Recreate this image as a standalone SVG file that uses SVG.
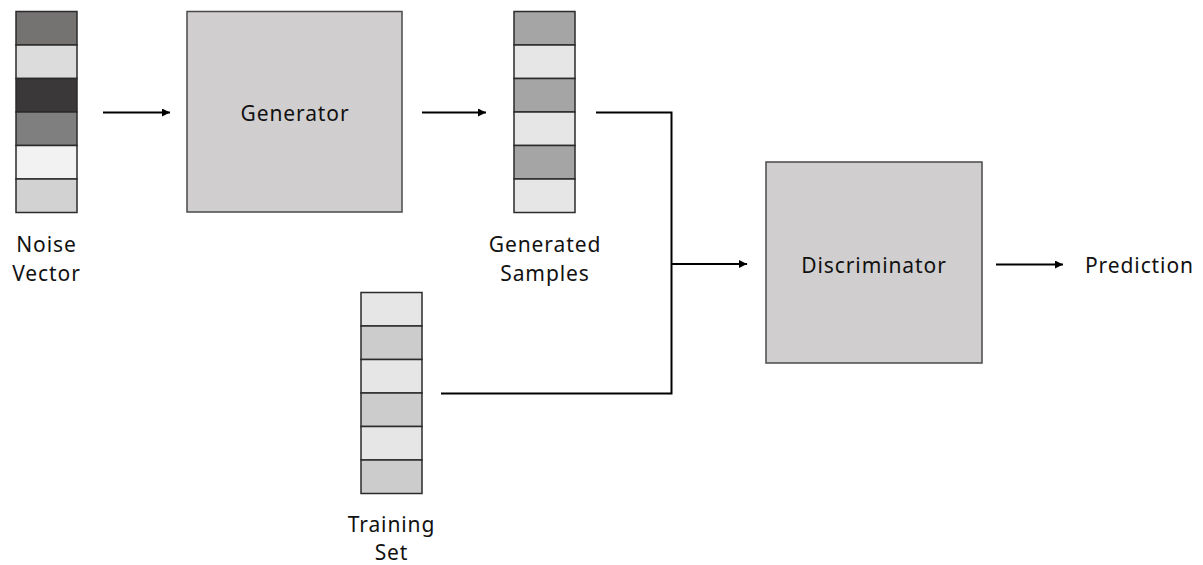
<svg xmlns="http://www.w3.org/2000/svg" width="1203" height="565" viewBox="0 0 1203 565">
<style>
.cell{stroke:#2b2b2b;stroke-width:1.5}
.box{fill:#d0cecf;stroke:#4a4a4a;stroke-width:1.5}
.lbl{font-family:"Noto Sans","Liberation Sans",sans-serif;font-size:21px;fill:#111;text-anchor:middle;letter-spacing:0.9px}
.edge{fill:none;stroke:#000;stroke-width:2}
</style>
<defs>
<marker id="ah" viewBox="0 0 10 10" refX="10" refY="5" markerWidth="10" markerHeight="8" markerUnits="userSpaceOnUse" orient="auto">
<path d="M0,0 L10,5 L0,10 Z" fill="#000"/>
</marker>
</defs>
<rect width="1203" height="565" fill="#fff"/>
<g id="noise-vector">
<rect class="cell" x="16" y="11.5" width="61" height="33.5" fill="#757272"/>
<rect class="cell" x="16" y="45" width="61" height="33.5" fill="#dcdcdc"/>
<rect class="cell" x="16" y="78.5" width="61" height="33.5" fill="#3a3838"/>
<rect class="cell" x="16" y="112" width="61" height="33.5" fill="#7f7f7f"/>
<rect class="cell" x="16" y="145.5" width="61" height="33.5" fill="#f2f2f2"/>
<rect class="cell" x="16" y="179" width="61" height="33.5" fill="#d3d2d3"/>
<text class="lbl" x="46.5" y="252">Noise</text>
<text class="lbl" x="46.5" y="281">Vector</text>
</g>
<g id="generator">
<rect class="box" x="187" y="11.5" width="215" height="200.5"/>
<text class="lbl" x="295" y="121">Generator</text>
</g>
<g id="generated-samples">
<rect class="cell" x="514" y="11.5" width="61" height="33.5" fill="#a5a5a5"/>
<rect class="cell" x="514" y="45" width="61" height="33.5" fill="#e6e6e6"/>
<rect class="cell" x="514" y="78.5" width="61" height="33.5" fill="#a5a5a5"/>
<rect class="cell" x="514" y="112" width="61" height="33.5" fill="#e6e6e6"/>
<rect class="cell" x="514" y="145.5" width="61" height="33.5" fill="#a5a5a5"/>
<rect class="cell" x="514" y="179" width="61" height="33.5" fill="#e6e6e6"/>
<text class="lbl" x="545" y="252">Generated</text>
<text class="lbl" x="545" y="281">Samples</text>
</g>
<g id="training-set">
<rect class="cell" x="361" y="292.5" width="61" height="33.5" fill="#e6e6e6"/>
<rect class="cell" x="361" y="326" width="61" height="33.5" fill="#cccccc"/>
<rect class="cell" x="361" y="359.5" width="61" height="33.5" fill="#e6e6e6"/>
<rect class="cell" x="361" y="393" width="61" height="33.5" fill="#cccccc"/>
<rect class="cell" x="361" y="426.5" width="61" height="33.5" fill="#e6e6e6"/>
<rect class="cell" x="361" y="460" width="61" height="33.5" fill="#cccccc"/>
<text class="lbl" x="391.5" y="532">Training</text>
<text class="lbl" x="391.5" y="560">Set</text>
</g>
<g id="discriminator">
<rect class="box" x="766" y="162" width="216" height="201"/>
<text class="lbl" x="874" y="273">Discriminator</text>
</g>
<g id="prediction">
<text class="lbl" x="1085" y="273" style="text-anchor:start">Prediction</text>
</g>
<g id="connectors">
<line class="edge" x1="103" y1="112.5" x2="170" y2="112.5" marker-end="url(#ah)"/>
<line class="edge" x1="422" y1="112.5" x2="486" y2="112.5" marker-end="url(#ah)"/>
<polyline class="edge" points="596,112.5 671.5,112.5 671.5,393.5 441,393.5"/>
<line class="edge" x1="671.5" y1="264" x2="747" y2="264" marker-end="url(#ah)"/>
<line class="edge" x1="996" y1="264.5" x2="1063" y2="264.5" marker-end="url(#ah)"/>
</g>
</svg>
